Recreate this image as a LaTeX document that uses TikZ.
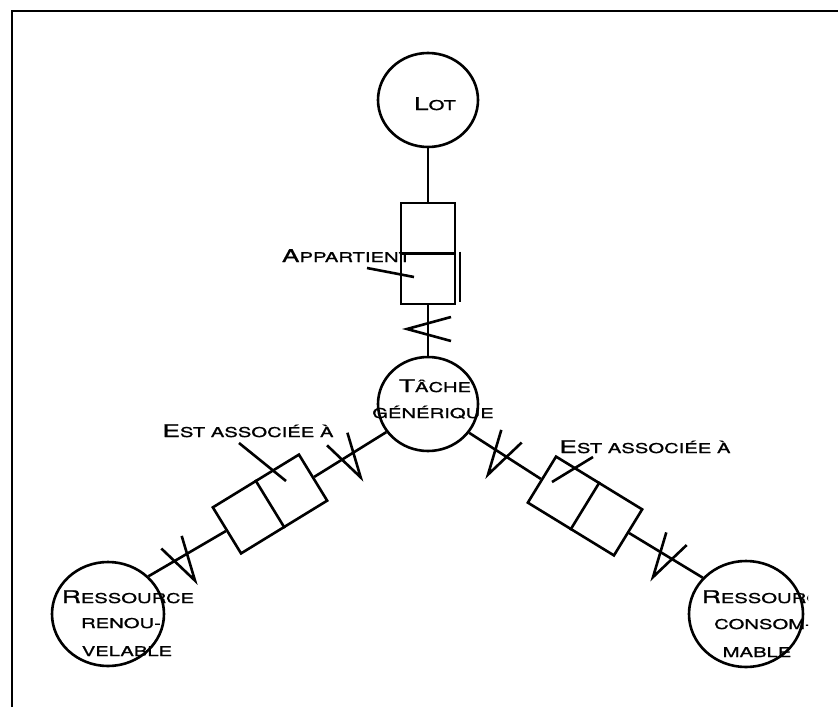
\documentclass[tikz,border=0pt]{standalone}
\usepackage{fontspec}
\setmainfont{TeX Gyre Heros}[FakeStretch=1.5,FakeBold=1]
\usetikzlibrary{shapes.geometric,calc}
\newcommand\sct[2]{{\fontsize{17.5}{20}\selectfont #1}{\fontsize{13.5}{16}\selectfont\MakeUppercase{#2}}}
\tikzset{
  ln/.style={line width=2.6pt},
  frame/.style={line width=2.6pt},
  ell/.style={ellipse, draw, line width=2.6pt, inner sep=0pt},
  rbox/.style={rectangle, draw, line width=2.6pt, minimum width=101pt, minimum height=54pt, inner sep=0pt},
  lbl/.style={anchor=base, inner sep=0pt},
}
\begin{document}
\begin{tikzpicture}[x=1pt,y=-1pt]
\useasboundingbox (0,0) rectangle (838,707);
\draw[frame] (12,707) -- (12,11) -- (838,11);

% entities
\node[ell, minimum width=100pt, minimum height=94pt] (lot) at (428,100) {};
\node[ell, minimum width=100pt, minimum height=94pt] (tache) at (428,404) {};
\node[ell, minimum width=112pt, minimum height=104pt] (renouv) at (108,614) {};
\node[ell, minimum width=114pt, minimum height=106pt] (conso) at (746,614) {};

% relation boxes
\node[rbox, rotate=90] (ap) at (428,253.5) {};
\draw[ln] (ap.north) -- (ap.south);
\draw[ln] ($(ap.south)+(3.5,-2)$) -- ($(ap.south west)+(3.5,-3)$);
\node[rbox, rotate=31.5] (lb) at (270,504) {};
\draw[ln] (lb.north) -- (lb.south);
\node[rbox, rotate=-31.5] (rb) at (585,506) {};
\draw[ln] (rb.north) -- (rb.south);

% connectors
\draw[ln] (lot) -- (ap.east);
\draw[ln] (ap.west) -- (tache);
\draw[ln] (tache.214) -- (lb.east);
\draw[ln] (lb.west) -- (renouv.43);
\draw[ln] (tache.325) -- (rb.west);
\draw[ln] (rb.east) -- (conso.140);

% cardinality marks
\draw[ln] (451,317) -- (407,329) -- (451,341);
\draw[ln] (347.4,432.7) -- (360.7,477.4) -- (327.0,445.3);
\draw[ln] (181.7,535.9) -- (195,580.6) -- (161.3,548.5);
\draw[ln] (521.7,442.5) -- (488,474.6) -- (501.3,429.9);
\draw[ln] (686.7,545) -- (653,577.1) -- (666.3,532.4);

% texts
\node[lbl] (tlot) at (435,110) {\sct{L}{ot}};
\node[lbl] (tap) at (346.5,262) {\sct{A}{ppartient}};
\node[lbl] (tta1) at (435,392) {\sct{T}{âche}};
\node[lbl] (tta2) at (433,418) {\sct{}{générique}};
\node[lbl] (tle) at (248,437) {\sct{E}{st associée à}};
\node[lbl] (tri) at (645,453) {\sct{E}{st associée à}};
\node[lbl] (tr1) at (128,603) {\sct{R}{essource}};
\node[lbl] (tr2) at (121,628) {\sct{}{renou-}};
\node[lbl] (tr3) at (127,656) {\sct{}{velable}};
\begin{scope}
\clip (640,560) rectangle (808,690);
\node[lbl] (tc1) at (768,603) {\sct{R}{essource}};
\node[lbl] (tc2) at (763,629) {\sct{}{consom-}};
\node[lbl] (tc3) at (757,657) {\sct{}{mable}};
\end{scope}

% leaders
\coordinate (ap1) at (367,268);
\coordinate (ap2) at (414,277);
\draw[ln] (ap1) -- (ap2);
\coordinate (le1) at (239,443);
\coordinate (le2) at (286,481);
\draw[ln] (le1) -- (le2);
\coordinate (ri1) at (552,482);
\coordinate (ri2) at (593,457);
\draw[ln] (ri1) -- (ri2);
\end{tikzpicture}
\end{document}
